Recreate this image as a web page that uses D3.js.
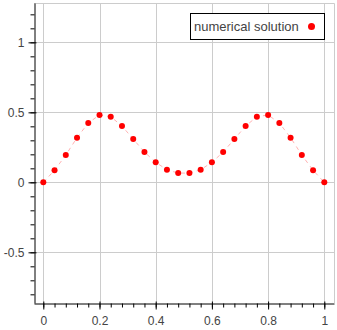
<!DOCTYPE html>
<html>
<head>
<meta charset="utf-8">
<script src="https://cdn.jsdelivr.net/npm/d3@7"></script>
<style>
  body { margin: 0; background: #fff; }
  .axis text { font-family: "Liberation Sans", Arial, sans-serif; font-size: 12px; fill: #444; }
  .axis path, .axis line { stroke: #000; }
</style>
</head>
<body>
<script>
// waarden
var xWaarden = [0, 0.04, 0.08, 0.12, 0.16, 0.2, 0.24, 0.28, 0.32, 0.36, 0.4, 0.44, 0.48,
                0.52, 0.56, 0.6, 0.64, 0.68, 0.72, 0.76, 0.8, 0.84, 0.88, 0.92, 0.96, 1];
var yWaarden = [0, 0.086, 0.195, 0.319, 0.424, 0.481, 0.469, 0.402, 0.309, 0.216, 0.143, 0.09, 0.066,
                0.066, 0.09, 0.143, 0.216, 0.309, 0.402, 0.469, 0.481, 0.424, 0.319, 0.195, 0.086, 0];
var xTicks = [0, 0.2, 0.4, 0.6, 0.8, 1];
var yTicks = [-0.5, 0, 0.5, 1];
var xMinor = d3.range(0, 26).map(function(i) { return +(i * 0.04).toFixed(2); });
var yMinor = d3.range(-8, 13).map(function(i) { return +(i * 0.1).toFixed(1); });
var legendaTekst = "numerical solution";

var breedte = 337, hoogte = 330;
var frame = {links: 34, rechts: 334, boven: 3, beneden: 303};

var svg = d3.select("body").append("svg")
    .attr("width", breedte)
    .attr("height", hoogte);

var x = d3.scaleLinear().domain([-0.0331, 1.0345]).range([frame.links, frame.rechts]);
var y = d3.scaleLinear().domain([-0.862, 1.281]).range([frame.beneden, frame.boven]);

// rasterlijnen
svg.append("g").selectAll("line")
   .data(xTicks).enter().append("line")
   .attr("x1", function(d) { return Math.round(x(d)) + 0.5; })
   .attr("x2", function(d) { return Math.round(x(d)) + 0.5; })
   .attr("y1", frame.boven).attr("y2", frame.beneden)
   .attr("stroke", "#cccccc");
svg.append("g").selectAll("line")
   .data(yTicks).enter().append("line")
   .attr("y1", function(d) { return Math.round(y(d)) + 0.5; })
   .attr("y2", function(d) { return Math.round(y(d)) + 0.5; })
   .attr("x1", frame.links).attr("x2", frame.rechts)
   .attr("stroke", "#cccccc");

// omlijning boven en rechts
svg.append("path")
   .attr("d", "M" + frame.links + "," + (frame.boven + 0.5) + "H" + (frame.rechts + 0.5) + "V" + frame.beneden)
   .attr("fill", "none")
   .attr("stroke", "#cccccc");

// stippellijn
var lijn = d3.line()
    .x(function(d, i) { return x(xWaarden[i]); })
    .y(function(d) { return y(d); });
svg.append("path")
   .datum(yWaarden)
   .attr("d", lijn)
   .attr("fill", "none")
   .attr("stroke", "red")
   .attr("stroke-opacity", 0.3)
   .attr("stroke-width", 1)
   .attr("stroke-dasharray", "4,4");

// punten
svg.append("g").selectAll("circle")
   .data(yWaarden).enter().append("circle")
   .attr("cx", function(d, i) { return x(xWaarden[i]); })
   .attr("cy", function(d) { return y(d); })
   .attr("r", 3)
   .attr("fill", "red");

// x-as
var asX = svg.append("g")
   .attr("class", "axis")
   .attr("transform", "translate(0," + (frame.beneden + 0.5) + ")")
   .call(d3.axisBottom(x).tickValues(xTicks).tickSize(6).tickPadding(7).tickSizeOuter(0)
         .tickFormat(function(d) { return d3.format("")(d); }));
asX.selectAll(".tick line").attr("y1", -2);
svg.append("g")
   .attr("class", "axis")
   .attr("transform", "translate(0," + (frame.beneden + 0.5) + ")")
   .call(d3.axisBottom(x).tickValues(xMinor).tickSize(4).tickSizeOuter(0).tickFormat(""))
   .select(".domain").remove();

// y-as
var asY = svg.append("g")
   .attr("class", "axis")
   .attr("transform", "translate(" + (frame.links + 0.5) + ",0)")
   .call(d3.axisLeft(y).tickValues(yTicks).tickSize(6).tickPadding(4).tickSizeOuter(0)
         .tickFormat(function(d) { return d3.format("")(d).replace("−", "-"); }));
asY.selectAll(".tick line").attr("x1", 2);
svg.append("g")
   .attr("class", "axis")
   .attr("transform", "translate(" + (frame.links + 0.5) + ",0)")
   .call(d3.axisLeft(y).tickValues(yMinor).tickSize(4).tickSizeOuter(0).tickFormat(""))
   .select(".domain").remove();

// legenda
var legenda = svg.append("g").attr("class", "legend");
legenda.append("rect")
   .attr("x", 190.5).attr("y", 13.5)
   .attr("width", 134).attr("height", 26)
   .attr("fill", "#fff")
   .attr("stroke", "#000");
legenda.append("text")
   .attr("x", 194).attr("y", 26.5)
   .attr("dy", "0.35em")
   .attr("font-family", "Liberation Sans, Arial, sans-serif")
   .attr("font-size", "13px")
   .attr("fill", "#444")
   .text(legendaTekst);
legenda.append("circle")
   .attr("cx", 311.5).attr("cy", 26.5)
   .attr("r", 3.5)
   .attr("fill", "red");
</script>
</body>
</html>
